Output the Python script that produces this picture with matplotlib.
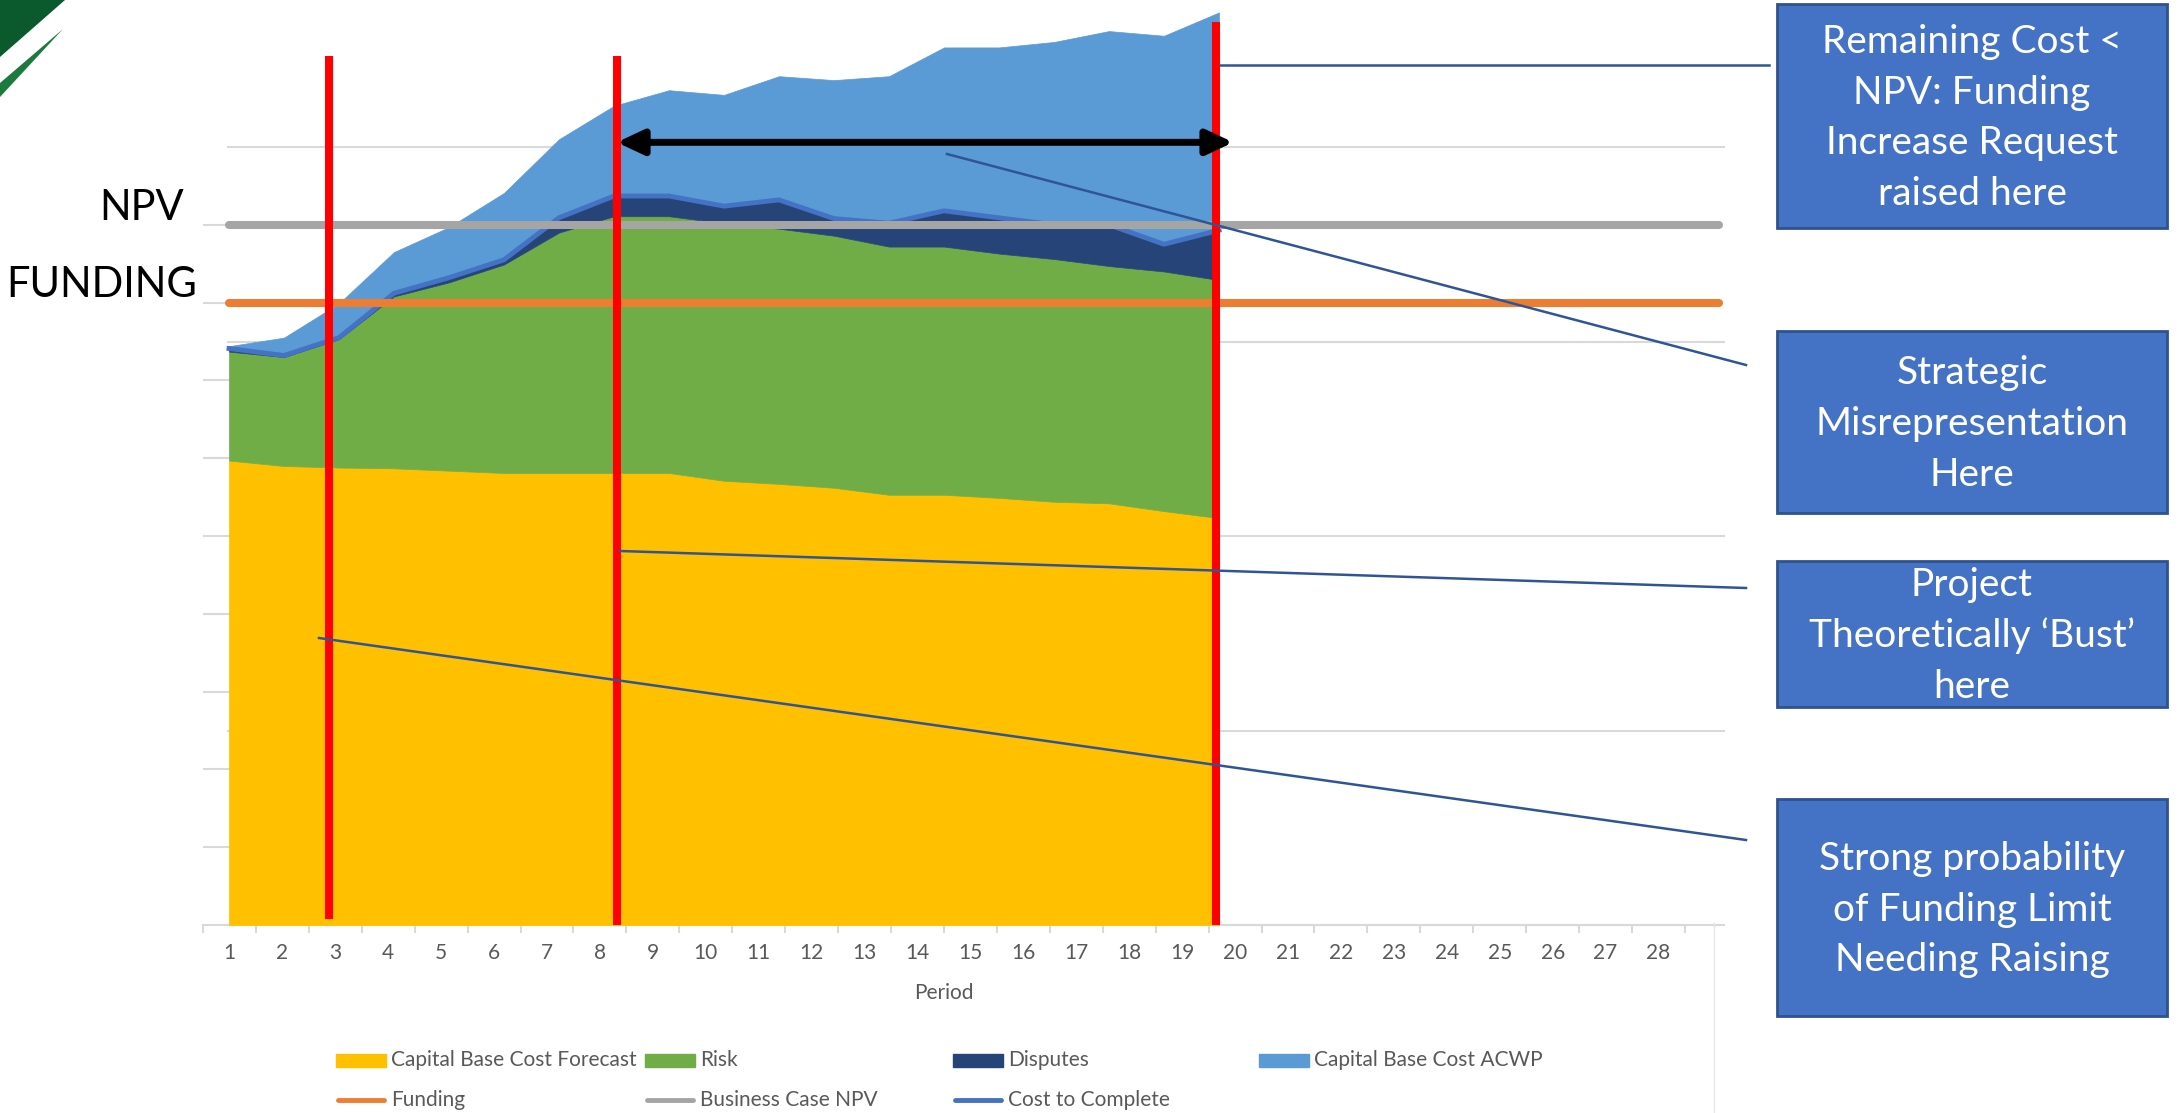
import numpy as np
import matplotlib
matplotlib.use("Agg")
import matplotlib.pyplot as plt
import matplotlib.transforms as mtransforms
from matplotlib.patches import Rectangle, Polygon, FancyArrowPatch
from matplotlib.lines import Line2D

plt.rcParams['font.family'] = ['Lato', 'DejaVu Sans']

W, H = 2179, 1113

# category axis
periods = np.arange(1, 29)

# reported periods and the stacked cost build-up (same units as funding / NPV)
reported = np.arange(1, 20)
capital_base_cost_forecast = [5.97, 5.90, 5.88, 5.87, 5.84, 5.81, 5.81, 5.81, 5.81, 5.71,
                              5.67, 5.62, 5.53, 5.53, 5.49, 5.44, 5.42, 5.32, 5.23]
risk = [1.40, 1.40, 1.65, 2.21, 2.42, 2.68, 3.09, 3.30, 3.30, 3.31,
        3.28, 3.24, 3.19, 3.19, 3.14, 3.12, 3.05, 3.08, 3.06]
disputes = [0.04, 0.02, 0.02, 0.04, 0.06, 0.06, 0.19, 0.26, 0.26, 0.22,
            0.37, 0.22, 0.30, 0.46, 0.46, 0.44, 0.53, 0.35, 0.64]
capital_base_cost_acwp = [0.03, 0.23, 0.44, 0.53, 0.65, 0.86, 1.01, 1.16, 1.36, 1.43,
                          1.59, 1.78, 1.89, 2.10, 2.19, 2.35, 2.49, 2.68, 2.80]
funding = 8.0
business_case_npv = 9.0

area_names = ["Capital Base Cost Forecast", "Risk", "Disputes", "Capital Base Cost ACWP"]
area_colors = ["#FFC000", "#70AD47", "#264478", "#5B9BD5"]
line_names = ["Funding", "Business Case NPV", "Cost to Complete"]
line_colors = ["#ED7D31", "#A5A5A5", "#4472C4"]

box_texts = [
    ["Remaining Cost <", "NPV: Funding", "Increase Request", "raised here"],
    ["Strategic", "Misrepresentation", "Here"],
    ["Project", "Theoretically \u2018Bust\u2019", "here"],
    ["Strong probability", "of Funding Limit", "Needing Raising"],
]

GRID = '#D9D9D9'
TXT = '#595959'

fig = plt.figure(figsize=(W / 100, H / 100), dpi=100, facecolor='white')
# pixel coordinates measured from the top-left corner
px = mtransforms.Affine2D().scale(1, -1).translate(0, H)

rect = [203 / W, (H - 925) / H, 1482 / W, 925 / H]
ytop = 925 / 77.8

# category axis with the gridlines
ax = fig.add_axes(rect)
ax.set_xlim(0.5, 28.5)
ax.set_ylim(0, ytop)
for s in ['top', 'right', 'left']:
    ax.spines[s].set_visible(False)
ax.spines['bottom'].set_color(GRID)
ax.spines['bottom'].set_linewidth(1.5)
ax.set_yticks([])
ax.set_xticks(periods)
ax.set_xticklabels([str(p) for p in periods])
ax.set_xticks(np.arange(0.5, 29, 1), minor=True)
ax.tick_params(axis='x', which='major', length=0, pad=13, labelsize=15, labelcolor=TXT)
ax.tick_params(axis='x', which='minor', length=6, width=1.5, color=GRID)
ax.hlines(np.arange(1, 10), 0.5, 19.66, color=GRID, lw=1.5, zorder=0)
ax.hlines([0, 2.5, 5, 7.5, 10], 0.96, 29.26, color=GRID, lw=1.5, zorder=0, clip_on=False)

# stacked areas on their own period scale
axa = fig.add_axes(rect, zorder=2)
axa.set_xlim(0.5273, 27.4727)
axa.set_ylim(0, ytop)
axa.axis('off')
axa.stackplot(reported, capital_base_cost_forecast, risk, disputes, capital_base_cost_acwp,
              colors=area_colors, edgecolor='face', linewidth=0.5)
cost_to_complete = np.sum([capital_base_cost_forecast, risk, disputes], axis=0)
axa.plot(reported, cost_to_complete, color=line_colors[2], lw=3.5, zorder=3)

line_span = [1, 28.09]
axa.plot(line_span, [funding, funding], color=line_colors[0], lw=5.8,
         solid_capstyle='round', zorder=4, clip_on=False)
axa.plot(line_span, [business_case_npv, business_case_npv], color=line_colors[1], lw=5.8,
         solid_capstyle='round', zorder=4, clip_on=False)

# red period markers
for x, y0, y1 in [(2.81, 0.08, 11.17), (8.05, 0.0, 11.17), (18.95, 0.0, 11.61)]:
    axa.plot([x, x], [y0, y1], color='#FF0000', lw=5.8, solid_capstyle='butt', zorder=6)

arrow = FancyArrowPatch((8.05, 10.06), (19.26, 10.06),
                        arrowstyle='<|-|>,head_length=1.6,head_width=0.75',
                        mutation_scale=10, lw=5, color='black',
                        shrinkA=0, shrinkB=0, zorder=7)
axa.add_patch(arrow)

# leader lines to the call-out boxes
for (x0, y0), (x1, y1) in [((1220, 65), (1769, 65)), ((947, 154), (1746, 365)),
                           ((620, 551), (1746, 588)), ((319, 638), (1746, 840))]:
    fig.add_artist(Line2D([x0, x1], [y0, y1], transform=px, color='#2F5597', lw=1.8, zorder=8))

# call-out boxes
boxes = [(4, 228), (331, 513), (561, 707), (799, 1016)]
for (top, bot), lines in zip(boxes, box_texts):
    fig.add_artist(Rectangle((1777, top), 390, bot - top, transform=px,
                             facecolor='#4472C4', edgecolor='#2F528F', lw=2, zorder=9))
    mid = (top + bot) / 2
    n = len(lines)
    for i, s in enumerate(lines):
        yc = mid + (i - (n - 1) / 2) * 50.7
        fig.text(1972, yc + 13, s, transform=px, ha='center', va='baseline',
                 color='white', fontsize=28, zorder=10)

# level labels on the left
fig.text(184, 220, "NPV", transform=px, ha='right', va='baseline', fontsize=30, color='black')
fig.text(197, 297, "FUNDING", transform=px, ha='right', va='baseline', fontsize=30, color='black')

# corner mark
fig.add_artist(Polygon([(0, 0), (65, 0), (0, 57)], transform=px, color='#0B5A2E', lw=0))
fig.add_artist(Polygon([(63, 29), (0, 83), (0, 97)], transform=px, color='#1D7A3E', lw=0))

# faint axis of the overlaid level chart
fig.add_artist(Line2D([1714, 1714], [923, 1113], transform=px, color='#E6E6E6', lw=1))

fig.text(944, 993, "Period", transform=px, ha='center', va='center', fontsize=15, color=TXT)

# legend
col_x = [336, 645, 953, 1259]
for x, name, color in zip(col_x, area_names, area_colors):
    fig.add_artist(Rectangle((x, 1054), 50, 13, transform=px, color=color))
    fig.text(x + 55, 1060, name, transform=px, va='center', fontsize=15, color=TXT)
for x, name, color in zip(col_x, line_names, line_colors):
    fig.add_artist(Line2D([x + 2, x + 48], [1100, 1100], transform=px, color=color, lw=3.5,
                          solid_capstyle='round'))
    fig.text(x + 55, 1100, name, transform=px, va='center', fontsize=15, color=TXT)

fig.savefig("out.png", dpi=100, facecolor='white')
